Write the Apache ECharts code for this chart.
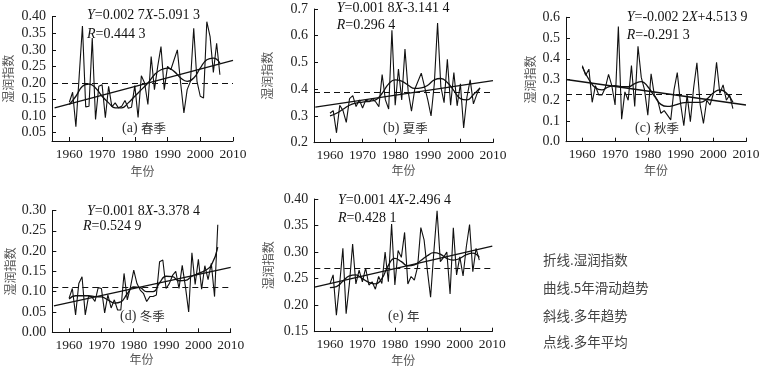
<!DOCTYPE html>
<html>
<head>
<meta charset="utf-8">
<script src="https://cdn.jsdelivr.net/npm/echarts@6/dist/echarts.min.js"></script>
<style>
  html, body { margin: 0; padding: 0; background: #fff; }
  #chart { width: 764px; height: 370px; }
</style>
</head>
<body>
<div id="chart"></div>
<script>
const SERIF = '"Liberation Serif", "DejaVu Serif", serif'
const CJK = '"Noto Sans CJK SC", sans-serif'

const YEARS = [1960,1961,1962,1963,1964,1965,1966,1967,1968,1969,
  1970,1971,1972,1973,1974,1975,1976,1977,1978,1979,
  1980,1981,1982,1983,1984,1985,1986,1987,1988,1989,
  1990,1991,1992,1993,1994,1995,1996,1997,1998,1999,
  2000,2001,2002,2003,2004,2005,2006]
const SMOOTH_YEARS = [1960,1962,1964,1966,1968,1970,1972,1974,1976,1978,1980,1982,
  1984,1986,1988,1990,1992,1994,1996,1998,2000,2002,2004,2006]
const X_TICKS = [1960, 1970, 1980, 1990, 2000, 2010]

// humidity index
const springIdx = [0.142,0.172,0.068,0.22,0.372,0.128,0.13,0.336,0.09,0.19,
  0.195,0.095,0.19,0.128,0.14,0.125,0.13,0.147,0.124,0.127,
  0.192,0.096,0.222,0.2,0.135,0.28,0.18,0.25,0.31,0.18,
  0.25,0.24,0.27,0.30,0.2,0.11,0.18,0.205,0.365,0.205,
  0.16,0.155,0.385,0.34,0.232,0.32,0.225]
const summerIdx = [0.31,0.32,0.237,0.34,0.32,0.276,0.365,0.376,0.335,0.36,
  0.33,0.36,0.353,0.365,0.353,0.335,0.455,0.36,0.326,0.62,
  0.34,0.475,0.36,0.55,0.39,0.318,0.4,0.43,0.46,0.41,
  0.36,0.30,0.42,0.648,0.41,0.35,0.512,0.34,0.462,0.338,
  0.42,0.255,0.37,0.435,0.345,0.38,0.405]
const autumnIdx = [0.367,0.32,0.35,0.19,0.27,0.225,0.225,0.26,0.325,0.27,
  0.177,0.555,0.108,0.24,0.2,0.367,0.17,0.46,0.31,0.25,
  0.128,0.327,0.225,0.2,0.137,0.15,0.128,0.105,0.25,0.333,
  0.185,0.077,0.225,0.097,0.26,0.38,0.177,0.088,0.2,0.177,
  0.23,0.383,0.233,0.274,0.2,0.225,0.16]
const winterIdx = [0.084,0.108,0.043,0.12,0.137,0.043,0.088,0.088,0.076,0.11,
  0.108,0.048,0.092,0.06,0.08,0.055,0.055,0.145,0.08,0.112,
  0.153,0.12,0.104,0.096,0.076,0.088,0.088,0.092,0.174,0.178,
  0.108,0.12,0.14,0.15,0.108,0.165,0.112,0.05,0.196,0.118,
  0.18,0.106,0.164,0.13,0.17,0.088,0.265]
const annualIdx = [0.24,0.257,0.181,0.24,0.307,0.184,0.24,0.315,0.24,0.266,
  0.244,0.27,0.238,0.244,0.23,0.254,0.241,0.30,0.244,0.353,
  0.238,0.303,0.29,0.337,0.24,0.254,0.247,0.272,0.346,0.323,
  0.266,0.215,0.30,0.378,0.282,0.29,0.30,0.221,0.346,0.257,
  0.291,0.255,0.31,0.352,0.263,0.307,0.285]

// 5-year moving trend curves (sampled every two years)
const springSmooth = [0.135,0.16,0.19,0.197,0.185,0.16,0.14,0.125,0.125,0.14,0.16,0.18,
  0.2,0.225,0.24,0.245,0.235,0.215,0.205,0.215,0.245,0.27,0.275,0.26]
const summerSmooth = [0.30,0.31,0.325,0.34,0.348,0.352,0.355,0.36,0.385,0.42,0.435,0.43,
  0.415,0.403,0.405,0.415,0.435,0.44,0.425,0.395,0.365,0.36,0.38,0.405]
const autumnSmooth = [0.36,0.30,0.26,0.25,0.265,0.27,0.265,0.265,0.28,0.29,0.265,0.22,
  0.18,0.17,0.175,0.185,0.19,0.19,0.19,0.205,0.235,0.25,0.235,0.19]
const winterSmooth = [0.082,0.09,0.09,0.09,0.088,0.087,0.08,0.072,0.075,0.095,0.112,0.11,
  0.1,0.1,0.122,0.138,0.137,0.127,0.128,0.138,0.145,0.152,0.165,0.21]
const annualSmooth = [0.233,0.235,0.245,0.255,0.257,0.25,0.243,0.24,0.25,0.275,0.288,0.282,
  0.274,0.276,0.284,0.293,0.299,0.296,0.288,0.285,0.288,0.295,0.298,0.29]

// long-term linear trend, end points as drawn
const springTrend = [[1955.5, 0.125], [2010, 0.268]]
const summerTrend = [[1955.5, 0.333], [2010, 0.432]]
const autumnTrend = [[1955.0, 0.300], [2010, 0.177]]
const winterTrend = [[1955.3, 0.065], [2010, 0.160]]
const annualTrend = [[1955.3, 0.234], [2010, 0.311]]

// long-term mean
const MEANS = [0.197, 0.387, 0.23, 0.114, 0.271]

const Y_TICKS = [
  [0.05, 0.10, 0.15, 0.20, 0.25, 0.30, 0.35, 0.40],
  [0.2, 0.3, 0.4, 0.5, 0.6, 0.7],
  [0.0, 0.1, 0.2, 0.3, 0.4, 0.5, 0.6],
  [0.00, 0.05, 0.10, 0.15, 0.20, 0.25, 0.30],
  [0.15, 0.20, 0.25, 0.30, 0.35, 0.40],
]
const EQUATIONS = [
  ['{i|Y}=0.002 7{i|X}-5.091 3', '{i|R}=0.444 3'],
  ['{i|Y}=0.001 8{i|X}-3.141 4', '{i|R}=0.296 4'],
  ['{i|Y}=-0.002 2{i|X}+4.513 9', '{i|R}=-0.291 3'],
  ['{i|Y}=0.001 8{i|X}-3.378 4', '{i|R}=0.524 9'],
  ['{i|Y}=0.001 4{i|X}-2.496 4', '{i|R}=0.428 1'],
]
const PANEL_TAGS = ['(a)', '(b)', '(c)', '(d)', '(e)']
const PANEL_NAMES = ['春季', '夏季', '秋季', '冬季', '年']
const LEGEND_LINES = ['折线.湿润指数', '曲线.5年滑动趋势', '斜线.多年趋势', '点线.多年平均']

const RAW = [springIdx, summerIdx, autumnIdx, winterIdx, annualIdx]
const SMOOTH = [springSmooth, summerSmooth, autumnSmooth, winterSmooth, annualSmooth]
const TREND = [springTrend, summerTrend, autumnTrend, winterTrend, annualTrend]

// layout of each small plot
const LAYOUT = [
  { left: 52,  top: 16.7,  width: 181,   height: 124.3, xMin: 1954.7, yMin: 0.025, yMax: 0.40, dec: 2, yGap: 38, xGap: 24,
    eq: [87, 15.7, 87, 34], tag: [122, 128] },
  { left: 314, top: 9,     width: 179,   height: 133.7, xMin: 1955.1, yMin: 0.2,   yMax: 0.7,  dec: 1, yGap: 41, xGap: 22,
    eq: [336.7, 8.3, 336.7, 25], tag: [383, 128] },
  { left: 566, top: 17.3,  width: 180,   height: 124.4, xMin: 1955.0, yMin: 0,     yMax: 0.6,  dec: 1, yGap: 30, xGap: 23,
    eq: [626.7, 17.3, 626.7, 35], tag: [635, 128] },
  { left: 52.3, top: 210.5, width: 178.4, height: 121.8, xMin: 1954.8, yMin: 0,     yMax: 0.30, dec: 2, yGap: 36, xGap: 21,
    eq: [87, 211.7, 83, 226.7], tag: [120, 316.7] },
  { left: 314.3, top: 199,  width: 178,   height: 132.7, xMin: 1955.2, yMin: 0.15,  yMax: 0.40, dec: 2, yGap: 40, xGap: 23,
    eq: [338, 200, 338, 218.3], tag: [388, 316.7] },
]

const AXIS_LINE = { show: true, lineStyle: { color: '#111', width: 1 } }

const grids = [], xAxes = [], yAxes = [], series = [], graphics = []

LAYOUT.forEach((L, i) => {
  grids.push({ left: L.left, top: L.top, width: L.width, height: L.height, outerBoundsMode: 'none', containLabel: false })
  xAxes.push({
    type: 'value', gridIndex: i, min: L.xMin, max: 2010,
    name: '年份', nameLocation: 'middle', nameGap: L.xGap,
    nameTextStyle: { fontFamily: CJK, fontSize: 12, color: '#555' },
    axisLine: AXIS_LINE,
    axisTick: { show: true, inside: true, length: 4, customValues: X_TICKS, lineStyle: { color: '#111' } },
    axisLabel: {
      customValues: X_TICKS, fontFamily: SERIF, fontSize: 13.5, color: '#222', margin: 6,
      formatter: (v) => String(Math.round(v)),
    },
    splitLine: { show: false },
  })
  yAxes.push({
    type: 'value', gridIndex: i, min: L.yMin, max: L.yMax,
    name: '湿润指数', nameLocation: 'middle', nameGap: L.yGap, nameRotate: 90,
    nameTextStyle: { fontFamily: CJK, fontSize: 12, color: '#555' },
    axisLine: AXIS_LINE,
    axisTick: { show: true, inside: true, length: 4, customValues: Y_TICKS[i], lineStyle: { color: '#111' } },
    axisLabel: {
      customValues: Y_TICKS[i], fontFamily: SERIF, fontSize: 14, color: '#222', margin: 6,
      formatter: (v) => Number(v).toFixed(L.dec),
    },
    splitLine: { show: false },
  })

  series.push({
    type: 'line', xAxisIndex: i, yAxisIndex: i, showSymbol: false, silent: true,
    lineStyle: { color: '#111', width: 1.1 },
    data: YEARS.map((y, k) => [y, RAW[i][k]]),
    markLine: {
      silent: true, symbol: 'none', label: { show: false },
      lineStyle: { color: '#111', width: 1, type: [6, 4] },
      data: [{ yAxis: MEANS[i] }],
    },
  })
  series.push({
    type: 'line', xAxisIndex: i, yAxisIndex: i, showSymbol: false, silent: true, smooth: 0.5,
    lineStyle: { color: '#111', width: 1.3 },
    data: SMOOTH_YEARS.map((y, k) => [y, SMOOTH[i][k]]),
  })
  series.push({
    type: 'line', xAxisIndex: i, yAxisIndex: i, showSymbol: false, silent: true,
    lineStyle: { color: '#111', width: 1.3 },
    data: TREND[i],
  })

  const eqStyle = { fontFamily: SERIF, fontSize: 14, fill: '#111' }
  const rich = { i: { fontFamily: SERIF, fontSize: 14, fontStyle: 'italic', color: '#111' } }
  graphics.push({ type: 'text', silent: true, style: { ...eqStyle, text: EQUATIONS[i][0], rich, x: L.eq[0], y: L.eq[1], verticalAlign: 'middle' } })
  graphics.push({ type: 'text', silent: true, style: { ...eqStyle, text: EQUATIONS[i][1], rich, x: L.eq[2], y: L.eq[3], verticalAlign: 'middle' } })
  graphics.push({
    type: 'text', silent: true,
    style: {
      text: PANEL_TAGS[i] + ' {c|' + PANEL_NAMES[i] + '}', x: L.tag[0], y: L.tag[1], verticalAlign: 'middle',
      fontFamily: SERIF, fontSize: 14, fill: '#333',
      rich: { c: { fontFamily: CJK, fontSize: 12.5, color: '#555' } },
    },
  })
})

const LEGEND_Y = [260, 287.7, 316, 341.7]
LEGEND_LINES.forEach((t, k) => {
  graphics.push({
    type: 'text', silent: true,
    style: { text: t, x: 543, y: LEGEND_Y[k], verticalAlign: 'middle', fontFamily: CJK, fontSize: 13.5, fill: '#444' },
  })
})

const chart = echarts.init(document.getElementById('chart'), null, { renderer: 'canvas' })
chart.setOption({
  backgroundColor: '#fff',
  animation: false,
  grid: grids,
  xAxis: xAxes,
  yAxis: yAxes,
  series,
  graphic: graphics,
})
</script>
</body>
</html>
